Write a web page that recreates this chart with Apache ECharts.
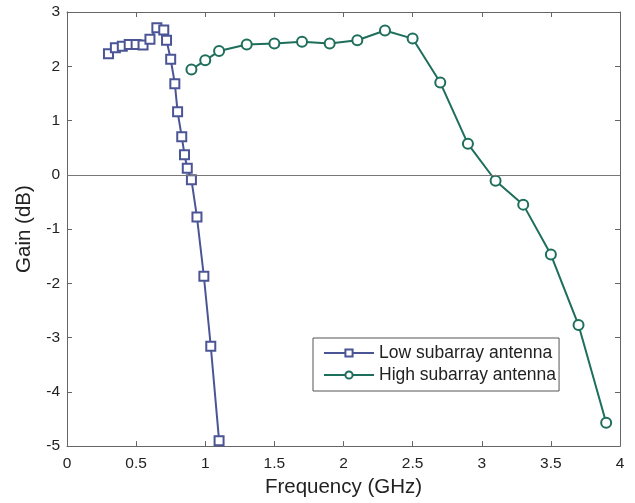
<!DOCTYPE html>
<html><head><meta charset="utf-8">
<script src="https://cdn.jsdelivr.net/npm/echarts@6/dist/echarts.min.js"></script>
<style>html,body{margin:0;padding:0;background:#fff}#c{width:635px;height:503px}</style>
</head><body><div id="c"></div>
<script>
const lowFreq = [0.3,0.35,0.4,0.45,0.5,0.55,0.6,0.65,0.7,0.72,0.75,0.78,0.8,0.83,0.85,0.87,0.9,0.94,0.99,1.04,1.1];
const lowGain = [2.23,2.34,2.37,2.40,2.40,2.39,2.50,2.71,2.67,2.48,2.13,1.68,1.16,0.70,0.37,0.12,-0.09,-0.78,-1.87,-3.16,-4.90];
const highFreq = [0.9,1.0,1.1,1.3,1.5,1.7,1.9,2.1,2.3,2.5,2.7,2.9,3.1,3.3,3.5,3.7,3.9];
const highGain = [1.94,2.11,2.28,2.40,2.42,2.45,2.42,2.48,2.66,2.51,1.70,0.57,-0.11,-0.55,-1.47,-2.77,-4.57];
const seriesNames = ['Low subarray antenna','High subarray antenna'];

const font = 'Liberation Sans, Arial, sans-serif';
const lowColor = '#4b5596';
const highColor = '#1d6e5b';
const axisCol = '#666';
const chart = echarts.init(document.getElementById('c'));
const zip = (a,b)=>a.map((v,i)=>[v,b[i]]);
const baseAxis = {
  axisLine:{show:true,onZero:false,lineStyle:{color:axisCol,width:1}},
  axisTick:{show:true,inside:true,length:5,lineStyle:{color:axisCol}},
  splitLine:{show:false}
};
chart.setOption({
  backgroundColor:'#fff',
  animation:false,
  grid:{left:67,right:15,top:12,bottom:55},
  xAxis:[
    Object.assign({type:'value',min:0,max:4,interval:0.5,position:'bottom',
      name:'Frequency (GHz)',nameLocation:'middle',nameGap:30,
      nameTextStyle:{fontFamily:font,fontSize:20.5,color:'#222'},
      axisLabel:{fontFamily:font,fontSize:15.5,color:'#222',margin:10}},baseAxis),
    Object.assign({type:'value',min:0,max:4,interval:0.5,position:'top',
      axisLabel:{show:false}},baseAxis)
  ],
  yAxis:[
    Object.assign({type:'value',min:-5,max:3,interval:1,position:'left',
      name:'Gain (dB)',nameLocation:'middle',nameGap:32,
      nameTextStyle:{fontFamily:font,fontSize:20.5,color:'#222'},
      axisLabel:{fontFamily:font,fontSize:15.5,color:'#222',margin:7}},baseAxis),
    Object.assign({type:'value',min:-5,max:3,interval:1,position:'right',
      axisLabel:{show:false}},baseAxis)
  ],
  legend:{
    orient:'vertical',left:313,top:338,
    backgroundColor:'#fff',borderColor:'#555',borderWidth:1,borderRadius:0,
    padding:[6,3,7,10],itemGap:4,itemWidth:50,itemHeight:9,
    textStyle:{fontFamily:font,fontSize:17.5,color:'#222',padding:[0,0,0,0]},
    data:seriesNames
  },
  series:[
    {name:seriesNames[0],type:'line',data:zip(lowFreq,lowGain),
      symbol:'rect',symbolSize:9,showAllSymbol:true,
      lineStyle:{color:lowColor,width:2},
      itemStyle:{color:'#fff',borderColor:lowColor,borderWidth:2},
      z:3,
      markLine:{silent:true,symbol:'none',label:{show:false},
        lineStyle:{color:'#777',width:1.2,type:'solid'},data:[{yAxis:0}]}},
    {name:seriesNames[1],type:'line',data:zip(highFreq,highGain),
      symbol:'circle',symbolSize:10,showAllSymbol:true,
      lineStyle:{color:highColor,width:2},
      itemStyle:{color:'#fff',borderColor:highColor,borderWidth:2},
      z:3}
  ]
});
</script></body></html>
